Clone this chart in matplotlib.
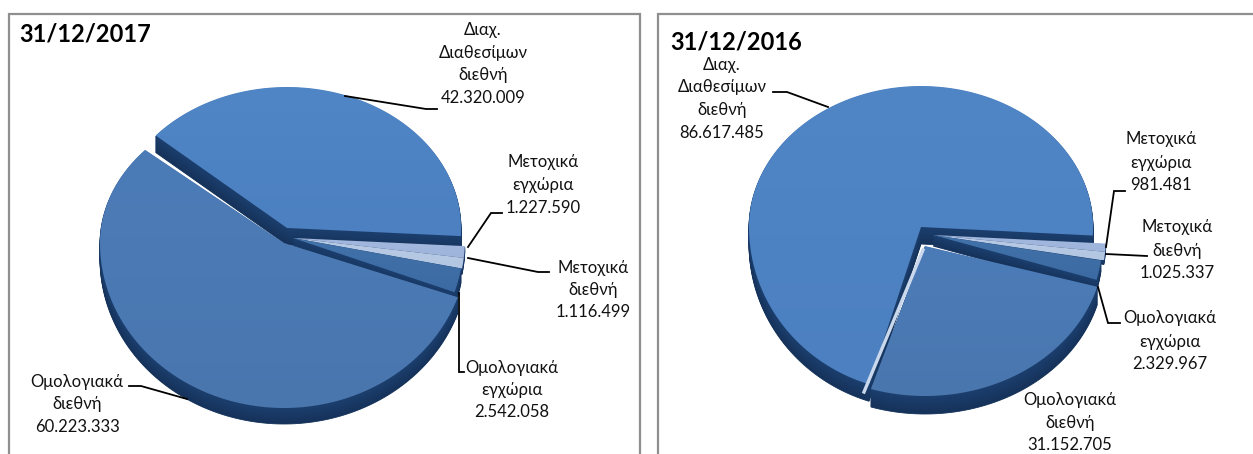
import matplotlib
matplotlib.use("Agg")
import matplotlib.pyplot as plt
import numpy as np
from matplotlib.colors import LinearSegmentedColormap, to_rgb
from matplotlib.patches import Polygon, Rectangle

plt.rcParams["font.family"] = ["Lato", "Open Sans", "DejaVu Sans"]

categories = ["Διαχ.\nΔιαθεσίμων\nδιεθνή", "Μετοχικά\nεγχώρια", "Μετοχικά\nδιεθνή",
              "Ομολογιακά\nεγχώρια", "Ομολογιακά\nδιεθνή"]
values_2017 = [42320009, 1227590, 1116499, 2542058, 60223333]
values_2016 = [86617485, 981481, 1025337, 2329967, 31152705]
value_labels_2017 = ["42.320.009", "1.227.590", "1.116.499", "2.542.058", "60.223.333"]
value_labels_2016 = ["86.617.485", "981.481", "1.025.337", "2.329.967", "31.152.705"]

# top face colours (light, dark) and side colours for each slice
top_colors = [("#5086c6", "#4c80c0"), ("#a3b8de", "#9fb4da"), ("#b9cbe6", "#b3c6e2"),
              ("#4272aa", "#3c6aa3"), ("#4c7cb8", "#4a76ae")]
side_top = "#1c3f6e"
side_bottom = "#15325a"

# apex x, apex y, rx, ry up, ry down, depth
geom_2017 = [(287, 228, 174, 141, 165, 17), (293, 238, 172, 150, 165, 6), (293, 238, 172, 150, 165, 6),
             (293, 238, 171, 150, 165, 14), (284, 243, 184, 142, 165, 16)]
geom_2016 = [(921, 227, 172, 141, 165, 17), (933, 235, 173, 150, 165, 4), (933, 235, 173, 150, 165, 4),
             (933, 235, 170, 150, 165, 11), (925, 246, 179, 142, 150, 18)]


def slice_points(g, a1, a2):
    cx, cy, rx, ry_up, ry_down = g[:5]
    t = np.radians(np.linspace(a1, a2, 180))
    x = cx + rx * np.cos(t)
    s = np.sin(t)
    y = cy - np.where(s > 0, ry_up, ry_down) * s
    return np.column_stack([np.r_[cx, x], np.r_[cy, y]])


def draw_pie(ax, values, geom, start):
    # slices run clockwise from the start angle
    ang = np.array(values) / sum(values) * 360
    ends = start - np.cumsum(ang)
    starts = ends + ang
    for i in range(len(values)):
        pts = slice_points(geom[i], starts[i], ends[i])
        depth = geom[i][5]
        for d in range(depth, 0, -1):
            w = d / depth
            c = (1 - w) * np.array(to_rgb(side_top)) + w * np.array(to_rgb(side_bottom))
            ax.add_patch(Polygon(pts + [0, d], closed=True, fc=c, ec=c, lw=0.6, zorder=2 + i * 0.1))
        poly = Polygon(pts, closed=True, fc="none", ec="none", zorder=2.05 + i * 0.1)
        ax.add_patch(poly)
        cmap = LinearSegmentedColormap.from_list("f", top_colors[i])
        x0, y0 = pts.min(axis=0)
        x1, y1 = pts.max(axis=0)
        im = ax.imshow(np.linspace(0, 1, 64).reshape(-1, 1), extent=(x0, x1, y1, y0), cmap=cmap,
                       aspect="auto", zorder=2.05 + i * 0.1, interpolation="bilinear")
        im.set_clip_path(poly)


def label(ax, x, ys, text, value):
    lines = text.split("\n") + [value]
    for y, line in zip(ys, lines):
        ax.text(x, y, line, ha="center", va="center", fontsize=12, color="#111111", zorder=6)


fig = plt.figure(figsize=(12.53, 4.54), dpi=100)
ax = fig.add_axes([0, 0, 1, 1])
ax.set_xlim(0, 1253)
ax.set_ylim(454, 0)
ax.axis("off")

ax.add_patch(Rectangle((9, 14), 631, 460, fc="white", ec="#8f8f8f", lw=1.6))
ax.add_patch(Rectangle((658, 14), 640, 460, fc="white", ec="#8f8f8f", lw=1.6))

draw_pie(ax, values_2017, geom_2017, 139)
draw_pie(ax, values_2016, geom_2016, 252.4)

# thin pale edge between the two big slices of 2016
ax.plot([923, 864], [250, 392], color="#c9d8ec", lw=2.4, zorder=4)

ax.text(19, 34, "31/12/2017", fontsize=17, fontweight="bold", va="center", color="black")
ax.text(670, 42, "31/12/2016", fontsize=17, fontweight="bold", va="center", color="black")

label(ax, 483, [30, 53, 75, 98], categories[0], value_labels_2017[0])
label(ax, 543, [162, 185, 208], categories[1], value_labels_2017[1])
label(ax, 593, [268, 290, 312], categories[2], value_labels_2017[2])
label(ax, 512, [368, 390, 412], categories[3], value_labels_2017[3])
label(ax, 77, [382, 404, 427], categories[4], value_labels_2017[4])

label(ax, 722, [65, 87, 110, 133], categories[0], value_labels_2016[0])
label(ax, 1161, [139, 163, 185], categories[1], value_labels_2016[1])
label(ax, 1177, [227, 251, 273], categories[2], value_labels_2016[2])
label(ax, 1170, [318, 342, 364], categories[3], value_labels_2016[3])
label(ax, 1070, [400, 423, 445], categories[4], value_labels_2016[4])

leaders = [
    ([345, 426, 437], [96, 109, 109]),
    ([468, 491, 502], [247, 213, 213]),
    ([468, 538, 549], [258, 272, 272]),
    ([459, 459, 464], [293, 372, 372]),
    ([187, 141, 129], [399, 386, 386]),
    ([828, 787, 773], [107, 92, 92]),
    ([1106, 1114, 1125], [247, 191, 191]),
    ([1106, 1147], [254, 256]),
    ([1098, 1108, 1120], [287, 323, 323]),
]
for xs, ys in leaders:
    ax.plot(xs, ys, color="black", lw=1.3, zorder=5, solid_joinstyle="miter")

ax.set_xlim(0, 1253)
ax.set_ylim(454, 0)
fig.savefig("out.png", dpi=100)
